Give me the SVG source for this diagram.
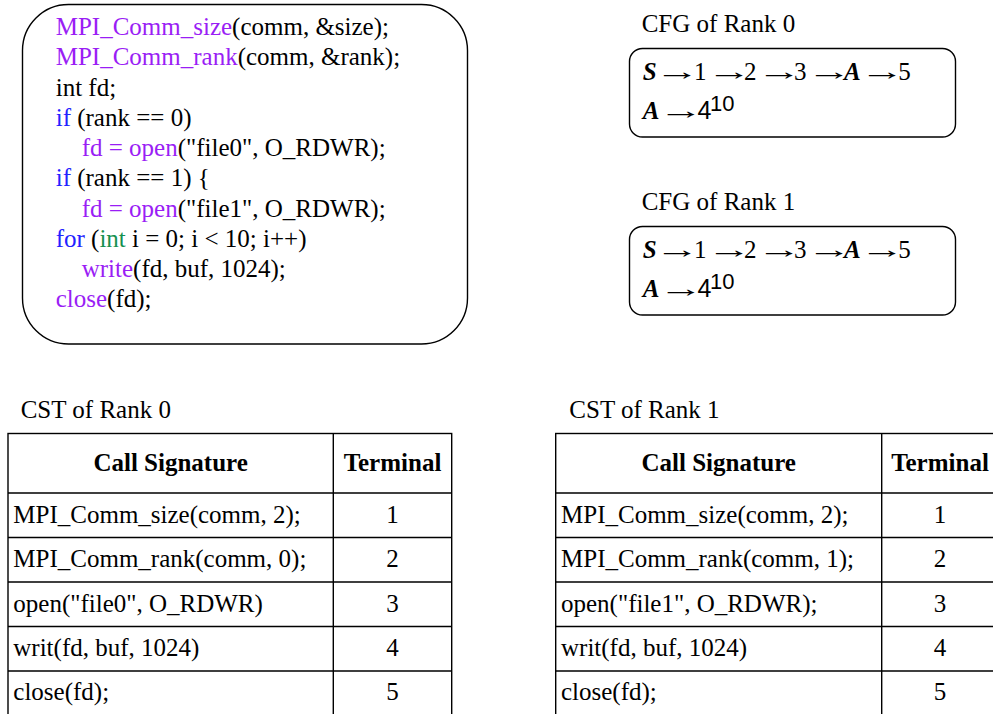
<svg xmlns="http://www.w3.org/2000/svg" width="993" height="714" viewBox="0 0 993 714" font-family="'Liberation Serif', 'Times New Roman', Times, serif" font-size="25">
  <style>
    text { font-family: "Liberation Serif", "Times New Roman", Times, serif; font-size: 25px; fill: #000; }
    .box { fill: #fff; stroke: #000; stroke-width: 1.4; }
    .grid { fill: none; stroke: #000; stroke-width: 1.4; }
    .fn { fill: #9a1ef5; }
    .kw { fill: #2222ff; }
    .ty { fill: #169150; }
    .nt { font-weight: bold; font-style: italic; }
    .sans { font-family: "Liberation Sans", Arial, sans-serif; }
    .sup { font-family: "Liberation Sans", Arial, sans-serif; font-size: 22px; }
    .hd { font-weight: bold; text-anchor: middle; }
    .mid { text-anchor: middle; }
  </style>
  <rect width="993" height="714" fill="#fff"/>

  <!-- source program -->
  <g id="code">
    <rect class="box" x="22.5" y="4.5" width="445" height="339.5" rx="46" ry="46"/>
    <text x="55.7" y="35"><tspan class="fn">MPI_Comm_size</tspan>(comm, &amp;size);</text>
    <text x="55.7" y="65.25"><tspan class="fn">MPI_Comm_rank</tspan>(comm, &amp;rank);</text>
    <text x="55.7" y="95.5">int fd;</text>
    <text x="55.7" y="125.75"><tspan class="kw">if</tspan> (rank == 0)</text>
    <text x="81.7" y="156"><tspan class="fn">fd = open</tspan>("file0", O_RDWR);</text>
    <text x="55.7" y="186.25"><tspan class="kw">if</tspan> (rank == 1) {</text>
    <text x="81.7" y="216.5"><tspan class="fn">fd = open</tspan>("file1", O_RDWR);</text>
    <text x="55.7" y="246.75"><tspan class="kw">for</tspan> (<tspan class="ty">int</tspan> i = 0; i &lt; 10; i++)</text>
    <text x="81.7" y="277"><tspan class="fn">write</tspan>(fd, buf, 1024);</text>
    <text x="55.7" y="307.25"><tspan class="fn">close</tspan>(fd);</text>
  </g>

  <!-- control flow grammar, rank 0 (arrows stretched to full em width) -->
  <g id="cfg-rank0">
    <text x="641.7" y="32.3">CFG of Rank 0</text>
    <rect class="box" x="629.5" y="48.5" width="326" height="88.5" rx="13" ry="13"/>
    <text y="80"><tspan x="642.7" class="nt">S</tspan><tspan x="694">1</tspan><tspan x="744">2</tspan><tspan x="794">3</tspan><tspan x="844" class="nt">A</tspan><tspan x="898.2">5</tspan></text>
    <text x="654.8" y="80" textLength="45" lengthAdjust="spacingAndGlyphs">→</text>
    <text x="706.8" y="80" textLength="45" lengthAdjust="spacingAndGlyphs">→</text>
    <text x="756.8" y="80" textLength="45" lengthAdjust="spacingAndGlyphs">→</text>
    <text x="806.8" y="80" textLength="45" lengthAdjust="spacingAndGlyphs">→</text>
    <text x="859.8" y="80" textLength="45" lengthAdjust="spacingAndGlyphs">→</text>
    <text y="118.5"><tspan x="642.7" class="nt">A</tspan><tspan x="697.5" class="sans">4</tspan></text>
    <text x="658.5" y="118.5" textLength="45" lengthAdjust="spacingAndGlyphs">→</text>
    <text class="sup" x="710" y="110.5">10</text>
  </g>

  <!-- control flow grammar, rank 1 -->
  <g id="cfg-rank1">
    <text x="641.7" y="210.3">CFG of Rank 1</text>
    <rect class="box" x="629.5" y="226.5" width="326" height="88.5" rx="13" ry="13"/>
    <text y="258"><tspan x="642.7" class="nt">S</tspan><tspan x="694">1</tspan><tspan x="744">2</tspan><tspan x="794">3</tspan><tspan x="844" class="nt">A</tspan><tspan x="898.2">5</tspan></text>
    <text x="654.8" y="258" textLength="45" lengthAdjust="spacingAndGlyphs">→</text>
    <text x="706.8" y="258" textLength="45" lengthAdjust="spacingAndGlyphs">→</text>
    <text x="756.8" y="258" textLength="45" lengthAdjust="spacingAndGlyphs">→</text>
    <text x="806.8" y="258" textLength="45" lengthAdjust="spacingAndGlyphs">→</text>
    <text x="859.8" y="258" textLength="45" lengthAdjust="spacingAndGlyphs">→</text>
    <text y="296.5"><tspan x="642.7" class="nt">A</tspan><tspan x="697.5" class="sans">4</tspan></text>
    <text x="658.5" y="296.5" textLength="45" lengthAdjust="spacingAndGlyphs">→</text>
    <text class="sup" x="710" y="288.5">10</text>
  </g>

  <!-- call signature table, rank 0 -->
  <g id="cst-rank0">
    <text x="20.7" y="418.3">CST of Rank 0</text>
    <rect class="grid" x="8" y="433.5" width="443.7" height="290"/>
    <path class="grid" d="M333.3 433.5V720M8 493H451.7M8 537.5H451.7M8 582H451.7M8 626.5H451.7M8 671H451.7"/>
    <text class="hd" x="170.6" y="471">Call Signature</text>
    <text class="hd" x="392.5" y="471">Terminal</text>
    <text x="13.3" y="523.3">MPI_Comm_size(comm, 2);</text>
    <text x="13.3" y="567">MPI_Comm_rank(comm, 0);</text>
    <text x="13.3" y="611.7">open("file0", O_RDWR)</text>
    <text x="13.3" y="655.5">writ(fd, buf, 1024)</text>
    <text x="13.3" y="699.5">close(fd);</text>
    <text class="mid" x="392.5" y="523.3">1</text>
    <text class="mid" x="392.5" y="567">2</text>
    <text class="mid" x="392.5" y="611.7">3</text>
    <text class="mid" x="392.5" y="655.5">4</text>
    <text class="mid" x="392.5" y="699.5">5</text>
  </g>

  <!-- call signature table, rank 1 -->
  <g id="cst-rank1">
    <text x="569.3" y="418.3">CST of Rank 1</text>
    <rect class="grid" x="555.7" y="433.5" width="443.7" height="290"/>
    <path class="grid" d="M881.7 433.5V720M555.7 493H999.4M555.7 537.5H999.4M555.7 582H999.4M555.7 626.5H999.4M555.7 671H999.4"/>
    <text class="hd" x="718.7" y="471">Call Signature</text>
    <text class="hd" x="940" y="471">Terminal</text>
    <text x="561" y="523.3">MPI_Comm_size(comm, 2);</text>
    <text x="561" y="567">MPI_Comm_rank(comm, 1);</text>
    <text x="561" y="611.7">open("file1", O_RDWR);</text>
    <text x="561" y="655.5">writ(fd, buf, 1024)</text>
    <text x="561" y="699.5">close(fd);</text>
    <text class="mid" x="940" y="523.3">1</text>
    <text class="mid" x="940" y="567">2</text>
    <text class="mid" x="940" y="611.7">3</text>
    <text class="mid" x="940" y="655.5">4</text>
    <text class="mid" x="940" y="699.5">5</text>
  </g>
</svg>
